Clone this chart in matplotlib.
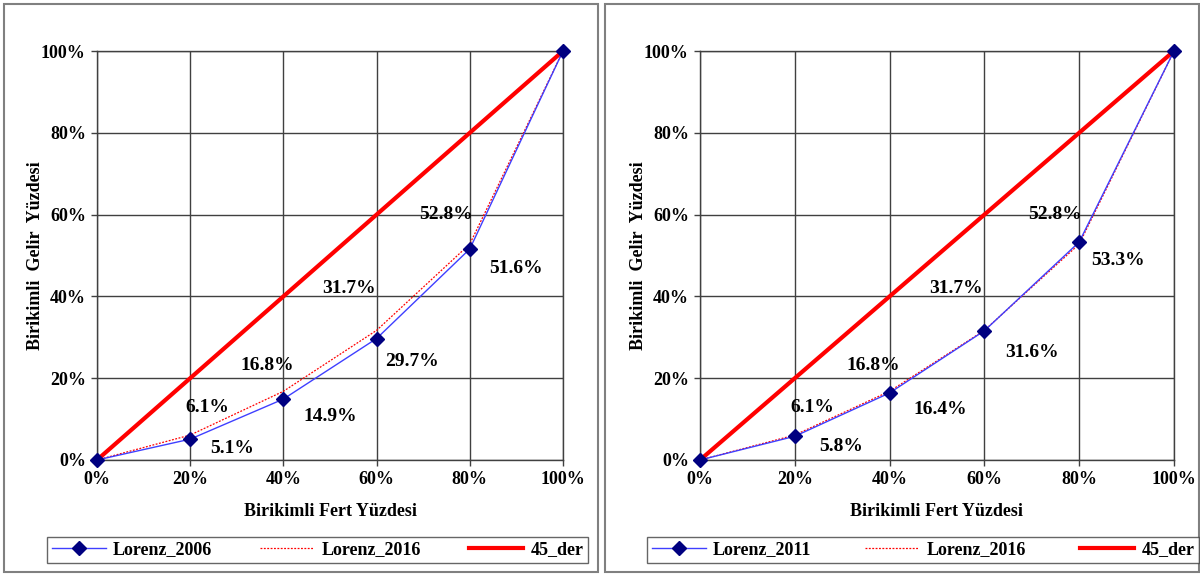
#!/usr/bin/env python3
"""Lorenz curves, two panels: 2006 vs 2016 and 2011 vs 2016."""
import matplotlib
matplotlib.use("Agg")
import matplotlib.pyplot as plt
from matplotlib.lines import Line2D
from matplotlib.patches import Rectangle
from matplotlib.ticker import FuncFormatter

# ── data ──────────────────────────────────────────────────────────────────────

POP_SHARE = [0, 20, 40, 60, 80, 100]
LORENZ_2006 = [0, 5.1, 14.9, 29.7, 51.6, 100]
LORENZ_2011 = [0, 5.8, 16.4, 31.6, 53.3, 100]
LORENZ_2016 = [0, 6.1, 16.8, 31.7, 52.8, 100]
EQUALITY = [0, 20, 40, 60, 80, 100]

# label offsets (x, y) in data units, for the inner points 20..80
OFFS_2016 = [(3.6, 6.8), (-3.5, 6.3), (-6, 10.3), (-5, 7.3)]
OFFS_LOW_L = [(9, -2.4), (10, -4.2), (7.6, -5.7), (10, -4.7)]
OFFS_LOW_R = [(9.7, -2.6), (10.6, -4.1), (10, -5.4), (8.2, -4.5)]

FONT = "Liberation Serif"
BLUE = "#3f3fff"
NAVY = "#000080"
RED = "#ff0000"


def pct(x, _):
    return f"{int(round(x))}%"


def draw_panel(fig, rect, lower, lower_name, lower_offs):
    ax = fig.add_axes(rect)
    ax.plot(POP_SHARE, lower, color=BLUE, lw=1.0, marker="D", ms=7,
            mfc=NAVY, mec=NAVY, zorder=4, clip_on=False)
    ax.plot(POP_SHARE, LORENZ_2016, color=RED, lw=0.9, ls=(0, (1.5, 1.2)),
            zorder=3, clip_on=False)
    ax.plot(POP_SHARE, EQUALITY, color=RED, lw=3.0, zorder=2, clip_on=False)

    for i in range(1, 5):
        dx, dy = OFFS_2016[i - 1]
        ax.text(POP_SHARE[i] + dx, LORENZ_2016[i] + dy, f"{LORENZ_2016[i]:.1f}%",
                ha="center", va="center", fontsize=14, fontweight="bold",
                family=FONT, zorder=5)
        dx, dy = lower_offs[i - 1]
        ax.text(POP_SHARE[i] + dx, lower[i] + dy, f"{lower[i]:.1f}%",
                ha="center", va="center", fontsize=14, fontweight="bold",
                family=FONT, zorder=5)

    ax.set_xlim(0, 100)
    ax.set_ylim(0, 100)
    ax.set_xticks(range(0, 101, 20))
    ax.set_yticks(range(0, 101, 20))
    ax.xaxis.set_major_formatter(FuncFormatter(pct))
    ax.yaxis.set_major_formatter(FuncFormatter(pct))
    ax.grid(True, color="#404040", lw=1.0)
    ax.set_axisbelow(True)
    for sp in ax.spines.values():
        sp.set_color("#404040")
        sp.set_linewidth(1.0)
    ax.tick_params(length=4, width=1, color="#404040", labelsize=13, pad=4)
    for lab in ax.get_xticklabels() + ax.get_yticklabels():
        lab.set_family(FONT)
        lab.set_fontweight("bold")
    ax.set_xlabel("Birikimli Fert Yüzdesi", fontsize=13, fontweight="bold",
                  family=FONT, labelpad=11)
    ax.set_ylabel("Birikimli  Gelir  Yüzdesi", fontsize=13, fontweight="bold",
                  family=FONT, labelpad=-2)

    handles = [
        Line2D([], [], color=BLUE, lw=1.0, marker="D", ms=7, mfc=NAVY, mec=NAVY),
        Line2D([], [], color=RED, lw=0.9, ls=(0, (1.5, 1.2))),
        Line2D([], [], color=RED, lw=3.0),
    ]
    return ax, handles, [lower_name, "Lorenz_2016", "45_der"]


def main():
    W, H = 1200, 574
    fig = plt.figure(figsize=(W / 100, H / 100), dpi=100)
    fig.patch.set_facecolor("white")

    # panel frames
    for x0, x1 in [(4, 598), (605, 1199)]:
        fig.patches.append(Rectangle((x0 / W, 2 / H), (x1 - x0) / W, (570 - 2) / H,
                                     transform=fig.transFigure, fill=False,
                                     ec="#808080", lw=1.5))

    panels = [
        ((97, 563), LORENZ_2006, "Lorenz_2006", OFFS_LOW_L, (47, 588)),
        ((700, 1174), LORENZ_2011, "Lorenz_2011", OFFS_LOW_R, (647, 1199)),
    ]
    for (px0, px1), lower, name, offs, (lx0, lx1) in panels:
        rect = [px0 / W, (H - 460) / H, (px1 - px0) / W, 409 / H]
        ax, handles, labels = draw_panel(fig, rect, lower, name, offs)
        leg = fig.legend(handles, labels, ncol=3, mode="expand",
                         bbox_to_anchor=(lx0 / W, (H - 563) / H,
                                         (lx1 - lx0) / W, 26 / H),
                         loc="lower left", frameon=True, fancybox=False,
                         edgecolor="#404040", borderaxespad=0, handlelength=3.0,
                         handletextpad=0.4, borderpad=0.25,
                         prop={"family": FONT, "weight": "bold", "size": 13})
        leg.get_frame().set_linewidth(1.0)

    fig.savefig("out.png", dpi=100)
    plt.close(fig)


if __name__ == "__main__":
    main()
